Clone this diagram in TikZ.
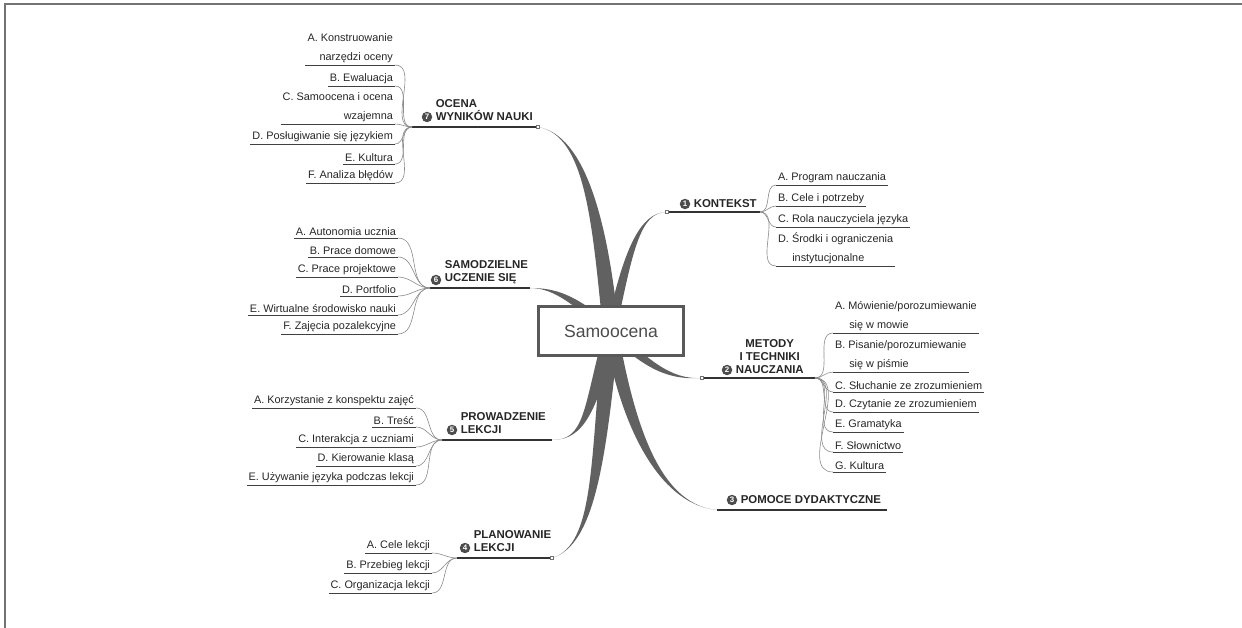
\documentclass[tikz,border=0pt]{standalone}
\usepackage{fontspec}
\setmainfont{Liberation Sans}
\usetikzlibrary{calc,positioning}
\def\branch[#1](#2)(#3)(#4)(#5)(#6){\fill[#1] ($(#2)+(#3)$) .. controls ($(#4)+(#3)$) and (#5) .. (#6) .. controls (#5) and ($(#4)-(#3)$) .. ($(#2)-(#3)$) -- cycle;}
\tikzset{
	frame/.style={draw=black!55, line width=1pt},
	limb/.style={fill=black!62},
	twig/.style={black!45, line width=0.35pt},
	ul/.style={black!75, line width=0.5pt},
	topicul/.style={black!80, line width=0.8pt},
	endmark/.style={draw=black!55, fill=white, line width=0.3pt, inner sep=0pt, minimum size=0.07cm},
	leaf/.style={font=\fontsize{6.2}{10.5}\selectfont, text=black!85, inner xsep=1pt, inner ysep=1.2pt},
	leafL/.style={leaf, anchor=south east, align=right},
	leafR/.style={leaf, anchor=south west, align=left},
	topic/.style={font=\fontsize{6.5}{7.4}\selectfont\bfseries, text=black!85, inner sep=0.5pt, anchor=south west},
	badge/.style={circle, fill=black!70, text=white, inner sep=0pt, minimum size=0.21cm, font=\fontsize{4.5}{5}\selectfont\bfseries},
	rootbox/.style={draw=black!65, line width=1.2pt, fill=white, minimum width=2.9cm, minimum height=0.98cm, font=\fontsize{10}{12}\selectfont, text=black!70}
}
\begin{document}
\begin{tikzpicture}[x=0.02cm, y=-0.02cm]
	\useasboundingbox (0,0) rectangle (1242,628);
	\draw[frame] (5,628) -- (5,4) -- (1242,4);

	\coordinate (mid) at (611,331);
	\coordinate (oEnd) at (538,127); \coordinate (oHub) at (412,127);
	\coordinate (sEnd) at (530,288); \coordinate (sHub) at (430,288);
	\coordinate (pEnd) at (552,440); \coordinate (pHub) at (442,440);
	\coordinate (lEnd) at (552,558); \coordinate (lHub) at (457,558);
	\coordinate (kEnd) at (667,212); \coordinate (kHub) at (760,212);
	\coordinate (mEnd) at (702,378); \coordinate (mHub) at (815,378);
	\coordinate (dEnd) at (717,510); \coordinate (dHub) at (887,510);

	\branch[limb](mid)(8,0)(600,220)(585,135)(oEnd)
	\branch[limb](mid)(5,0)(628,250)(640,212)(kEnd)
	\branch[limb](mid)(0,6)(575,300)(555,288)(sEnd)
	\branch[limb](mid)(0,6)(648,365)(670,380)(mEnd)
	\branch[limb](mid)(7,0)(590,410)(585,440)(pEnd)
	\branch[limb](mid)(8,0)(598,460)(595,545)(lEnd)
	\branch[limb](mid)(7,0)(630,440)(665,505)(dEnd)

	\node[rootbox] (root) at (mid) {Samoocena};

	\draw[topicul] (oHub) -- (oEnd);
	\draw[topicul] (sHub) -- (sEnd);
	\draw[topicul] (pHub) -- (pEnd);
	\draw[topicul] (lHub) -- (lEnd);
	\draw[topicul] (kEnd) -- (kHub);
	\draw[topicul] (mEnd) -- (mHub);
	\draw[topicul] (dEnd) -- (dHub);
	\node[endmark] (oMark) at (oEnd) {};
	\node[endmark] (lMark) at (lEnd) {};
	\node[endmark] (kMark) at (kEnd) {};
	\node[endmark] (mMark) at (mEnd) {};

	\node[badge] (b7) at (427,117) {7};
	\node[topic, align=left] (ocena) at ($(b7.east)+(2,5)$) {OCENA\\WYNIKÓW NAUKI};
	\node[badge] (b6) at (436,280) {6};
	\node[topic, align=left] (samo) at ($(b6.east)+(2,5)$) {SAMODZIELNE\\UCZENIE SIĘ};
	\node[badge] (b5) at (452,430) {5};
	\node[topic, align=left] (prow) at ($(b5.east)+(2,5)$) {PROWADZENIE\\LEKCJI};
	\node[badge] (b4) at (465,548) {4};
	\node[topic, align=left] (plan) at ($(b4.east)+(2,5)$) {PLANOWANIE\\LEKCJI};
	\node[badge] (b1) at (685,204) {1};
	\node[topic] (kont) at ($(b1.east)+(2,5)$) {KONTEKST};
	\node[badge] (b2) at (727,370) {2};
	\node[topic, align=center] (meto) at ($(b2.east)+(2,5)$) {METODY\\I TECHNIKI\\NAUCZANIA};
	\node[badge] (b3) at (732,500) {3};
	\node[topic] (pomo) at ($(b3.east)+(2,5)$) {POMOCE DYDAKTYCZNE};

	\node[leafL] (o1) at (395,65) {A. Konstruowanie\\narzędzi oceny};
	\node[leafL] (o2) at (395,86) {B. Ewaluacja};
	\node[leafL] (o3) at (395,124) {C. Samoocena i ocena\\wzajemna};
	\node[leafL] (o4) at (395,144) {D. Posługiwanie się językiem};
	\node[leafL] (o5) at (395,164) {E. Kultura};
	\node[leafL] (o6) at (395,183) {F. Analiza błędów};
	\foreach \n in {o1,o2,o3,o4,o5,o6}{
		\draw[ul] (\n.south west) -- (\n.south east);
		\draw[twig] (\n.south east) to[out=0,in=180] (oHub);
	}

	\node[leafL] (s1) at (398,238) {A. Autonomia ucznia};
	\node[leafL] (s2) at (398,257) {B. Prace domowe};
	\node[leafL] (s3) at (398,277) {C. Prace projektowe};
	\node[leafL] (s4) at (398,296) {D. Portfolio};
	\node[leafL] (s5) at (398,315) {E. Wirtualne środowisko nauki};
	\node[leafL] (s6) at (398,334) {F. Zajęcia pozalekcyjne};
	\foreach \n in {s1,s2,s3,s4,s5,s6}{
		\draw[ul] (\n.south west) -- (\n.south east);
		\draw[twig] (\n.south east) to[out=0,in=180] (sHub);
	}

	\node[leafL] (p1) at (416,408) {A. Korzystanie z konspektu zajęć};
	\node[leafL] (p2) at (416,427) {B. Treść};
	\node[leafL] (p3) at (416,447) {C. Interakcja z uczniami};
	\node[leafL] (p4) at (416,466) {D. Kierowanie klasą};
	\node[leafL] (p5) at (416,485) {E. Używanie języka podczas lekcji};
	\foreach \n in {p1,p2,p3,p4,p5}{
		\draw[ul] (\n.south west) -- (\n.south east);
		\draw[twig] (\n.south east) to[out=0,in=180] (pHub);
	}

	\node[leafL] (l1) at (432,553) {A. Cele lekcji};
	\node[leafL] (l2) at (432,573) {B. Przebieg lekcji};
	\node[leafL] (l3) at (432,593) {C. Organizacja lekcji};
	\foreach \n in {l1,l2,l3}{
		\draw[ul] (\n.south west) -- (\n.south east);
		\draw[twig] (\n.south east) to[out=0,in=180] (lHub);
	}

	\node[leafR] (k1) at (776,185) {A. Program nauczania};
	\node[leafR] (k2) at (776,206) {B. Cele i potrzeby};
	\node[leafR] (k3) at (776,227) {C. Rola nauczyciela języka};
	\node[leafR] (k4) at (776,266) {D. Środki i ograniczenia\\\hspace*{1.3em}instytucjonalne};
	\foreach \n in {k1,k2,k3,k4}{
		\draw[ul] (\n.south west) -- (\n.south east);
		\draw[twig] (kHub) to[out=0,in=180] (\n.south west);
	}

	\node[leafR] (m1) at (833,333) {A. Mówienie/porozumiewanie\\\hspace*{1.3em}się w mowie};
	\node[leafR] (m2) at (833,372) {B. Pisanie/porozumiewanie\\\hspace*{1.3em}się w piśmie};
	\node[leafR] (m3) at (833,392) {C. Słuchanie ze zrozumieniem};
	\node[leafR] (m4) at (833,412) {D. Czytanie ze zrozumieniem};
	\node[leafR] (m5) at (833,432) {E. Gramatyka};
	\node[leafR] (m6) at (833,452) {F. Słownictwo};
	\node[leafR] (m7) at (833,472) {G. Kultura};
	\foreach \n in {m1,m2,m3,m4,m5,m6,m7}{
		\draw[ul] (\n.south west) -- (\n.south east);
		\draw[twig] (mHub) to[out=0,in=180] (\n.south west);
	}
\end{tikzpicture}
\end{document}
